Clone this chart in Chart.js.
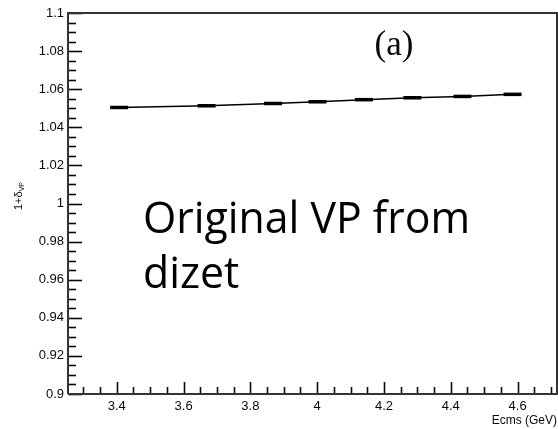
<!DOCTYPE html>
<html>
<head>
<meta charset="utf-8">
<script src="https://cdn.jsdelivr.net/npm/chart.js@4.4.1/dist/chart.umd.min.js"></script>
<style>
  html, body { margin: 0; padding: 0; background: #fff; }
  #wrap { width: 558px; height: 429px; }
</style>
</head>
<body>
<div id="wrap"><canvas id="vpChart" width="558" height="429"></canvas></div>
<script>
// vacuum polarisation factor vs. centre-of-mass energy
const ecms = [3.407, 3.669, 3.868, 4.001, 4.14, 4.285, 4.435, 4.585];
const vpFactor = [1.0504, 1.0513, 1.0525, 1.0534, 1.0545, 1.0555, 1.0562, 1.0573];

const xTicks = [3.4, 3.6, 3.8, 4.0, 4.2, 4.4, 4.6];
const yTicks = [0.9, 0.92, 0.94, 0.96, 0.98, 1.0, 1.02, 1.04, 1.06, 1.08, 1.1];
const xMinorStep = 0.05;
const yMinorStep = 0.005;

const tickFont = { family: "'Liberation Sans', Arial, sans-serif", size: 13 };
const ink = '#0a0a0a';

function fmt(v) {
  return String(+v.toFixed(2));
}

// ROOT-style frame: inward ticks, top/right border, captions
const frame = {
  id: 'frame',
  afterDraw(chart) {
    const { ctx, chartArea: a, scales: { x, y } } = chart;
    ctx.save();
    ctx.strokeStyle = ink;

    // y ticks
    ctx.lineWidth = 1.6;
    for (let v = y.min; v <= y.max + 1e-9; v += yMinorStep) {
      const py = Math.round(y.getPixelForValue(v)) + 0.5;
      const major = yTicks.some(t => Math.abs(t - v) < 1e-6);
      ctx.beginPath();
      ctx.moveTo(a.left, py);
      ctx.lineTo(a.left + (major ? 14 : 8), py);
      ctx.stroke();
    }
    // x ticks
    const start = Math.ceil(x.min / xMinorStep) * xMinorStep;
    for (let v = start; v <= x.max + 1e-9; v += xMinorStep) {
      const px = Math.round(x.getPixelForValue(v)) + 0.5;
      const major = xTicks.some(t => Math.abs(t - v) < 1e-6);
      ctx.beginPath();
      ctx.moveTo(px, a.bottom);
      ctx.lineTo(px, a.bottom - (major ? 12 : 7));
      ctx.stroke();
    }

    // frame lines
    ctx.lineWidth = 2;
    ctx.strokeStyle = '#333';
    ctx.beginPath();
    ctx.moveTo(a.left, a.bottom);
    ctx.lineTo(a.left, a.top);
    ctx.lineTo(a.right, a.top);
    ctx.lineTo(a.right, a.bottom);
    ctx.lineTo(a.left, a.bottom);
    ctx.stroke();

    // panel label
    ctx.fillStyle = ink;
    ctx.font = "35px 'Liberation Serif', 'Times New Roman', serif";
    ctx.textAlign = 'center';
    ctx.textBaseline = 'middle';
    ctx.fillText('(a)', 394, 46);

    // axis titles
    ctx.font = "12px 'Liberation Sans', Arial, sans-serif";
    ctx.textAlign = 'right';
    ctx.textBaseline = 'middle';
    ctx.fillText('Ecms (GeV)', 557, 421);

    ctx.save();
    ctx.translate(19, 196);
    ctx.rotate(-Math.PI / 2);
    ctx.textAlign = 'left';
    ctx.font = "11px 'Liberation Sans', Arial, sans-serif";
    const base = '1+\u03b4';
    const w = ctx.measureText(base).width;
    ctx.fillText(base, -14, 0);
    ctx.font = "7px 'Liberation Sans', Arial, sans-serif";
    ctx.fillText('VP', -14 + w, 3);
    ctx.restore();

    // note text
    ctx.fillStyle = '#000';
    ctx.font = "43px 'Open Sans', sans-serif";
    ctx.textAlign = 'left';
    ctx.textBaseline = 'alphabetic';
    const line1 = 'Original VP from';
    const sx = 327 / ctx.measureText(line1).width;
    ctx.save();
    ctx.translate(143, 233);
    ctx.scale(sx, 1);
    ctx.fillText(line1, 0, 0);
    ctx.fillText('dizet', 0, 55);
    ctx.restore();

    ctx.restore();
  }
};

new Chart(document.getElementById('vpChart'), {
  type: 'scatter',
  data: {
    datasets: [{
      data: ecms.map((e, i) => ({ x: e, y: vpFactor[i] })),
      showLine: true,
      borderColor: '#000',
      borderWidth: 1.5,
      pointStyle: 'line',
      pointRadius: 9,
      pointBorderWidth: 3.5,
      pointBorderColor: '#000',
      pointHoverRadius: 9
    }]
  },
  options: {
    responsive: false,
    animation: false,
    events: [],
    layout: { autoPadding: false, padding: { top: 13, right: 1, left: 0, bottom: 0 } },
    plugins: { legend: { display: false }, tooltip: { enabled: false } },
    scales: {
      x: {
        type: 'linear',
        min: 3.254,
        max: 4.718,
        afterFit(s) { s.height = 35; s.paddingLeft = 0; s.paddingRight = 0; },
        afterBuildTicks(s) { s.ticks = xTicks.map(v => ({ value: v })); },
        grid: { display: false, drawTicks: false },
        border: { display: false },
        ticks: { font: tickFont, color: ink, padding: 5, maxRotation: 0, autoSkip: false, callback: v => fmt(v) }
      },
      y: {
        min: 0.9,
        max: 1.1,
        afterFit(s) { s.width = 68; s.paddingTop = 0; s.paddingBottom = 0; },
        afterBuildTicks(s) { s.ticks = yTicks.map(v => ({ value: v })); },
        grid: { display: false, drawTicks: false },
        border: { display: false },
        ticks: { font: tickFont, color: ink, padding: 4, autoSkip: false, callback: v => fmt(v) }
      }
    }
  },
  plugins: [frame]
});
</script>
</body>
</html>
